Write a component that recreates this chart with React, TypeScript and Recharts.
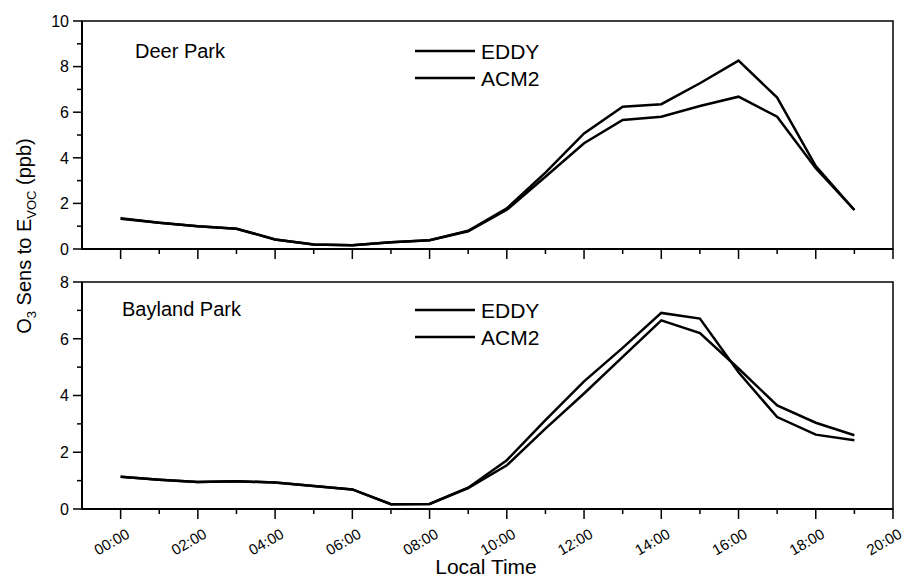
import React from 'react'
import { LineChart, Line, XAxis, YAxis, ReferenceArea } from 'recharts'

// hourly values, local time 00:00 .. 19:00
const HOURS = [0, 1, 2, 3, 4, 5, 6, 7, 8, 9, 10, 11, 12, 13, 14, 15, 16, 17, 18, 19]

const DEER_EDDY = [1.35, 1.15, 1.0, 0.89, 0.42, 0.2, 0.16, 0.3, 0.38, 0.8, 1.78, 3.35, 5.07, 6.24, 6.35, 7.27, 8.26, 6.64, 3.64, 1.71]
const DEER_ACM2 = [1.33, 1.15, 1.0, 0.89, 0.42, 0.2, 0.16, 0.3, 0.38, 0.78, 1.72, 3.17, 4.64, 5.66, 5.8, 6.27, 6.68, 5.8, 3.54, 1.71]

const BAYLAND_EDDY = [1.14, 1.03, 0.95, 0.98, 0.93, 0.81, 0.69, 0.17, 0.18, 0.75, 1.72, 3.13, 4.5, 5.68, 6.91, 6.71, 4.82, 3.24, 2.62, 2.42]
const BAYLAND_ACM2 = [1.14, 1.03, 0.95, 0.98, 0.93, 0.81, 0.69, 0.17, 0.18, 0.74, 1.54, 2.83, 4.07, 5.36, 6.65, 6.2, 4.95, 3.65, 3.04, 2.6]

const SERIES = ['EDDY', 'ACM2']

const X_TICKS = [0, 1, 2, 3, 4, 5, 6, 7, 8, 9, 10, 11, 12, 13, 14, 15, 16, 17, 18, 19, 20]
const X_LABELS = ['00:00', '', '02:00', '', '04:00', '', '06:00', '', '08:00', '', '10:00', '', '12:00', '', '14:00', '', '16:00', '', '18:00', '', '20:00']
const TOP_Y_TICKS = [0, 1, 2, 3, 4, 5, 6, 7, 8, 9, 10]
const BOTTOM_Y_TICKS = [0, 1, 2, 3, 4, 5, 6, 7, 8]

const FONT = '"Liberation Sans", Arial, Helvetica, sans-serif'

const deerData = HOURS.map((h, i) => ({ h, eddy: DEER_EDDY[i], acm2: DEER_ACM2[i] }))
const baylandData = HOURS.map((h, i) => ({ h, eddy: BAYLAND_EDDY[i], acm2: BAYLAND_ACM2[i] }))

// left axis ticks: long + label on even values, short on odd
const YTick = (props: any) => {
  const { x, y, payload } = props
  const major = payload.value % 2 === 0
  return (
    <g>
      <line x1={x} x2={x - (major ? 9 : 5)} y1={y} y2={y} stroke="#000" strokeWidth={1.5} />
      {major && (
        <text x={x - 13} y={y} dy="0.36em" textAnchor="end" fontSize={16} fontFamily={FONT} fill="#000">
          {payload.value}
        </text>
      )}
    </g>
  )
}

const makeXTick = (withLabels: boolean) => (props: any) => {
  const { x, y, payload } = props
  const major = payload.value % 2 === 0
  const label = X_LABELS[X_TICKS.indexOf(payload.value)]
  const tx = x + 10
  const ty = y + 28
  return (
    <g>
      <line x1={x} x2={x} y1={y} y2={y + (major ? 10 : 5)} stroke="#000" strokeWidth={1.5} />
      {withLabels && label && (
        <text
          x={tx}
          y={ty}
          textAnchor="end"
          fontSize={15}
          fontFamily={FONT}
          fill="#000"
          transform={`rotate(-30, ${tx}, ${ty})`}
        >
          {label}
        </text>
      )}
    </g>
  )
}

const SeriesKey = ({ left, top }: { left: number; top: number }) => (
  <div style={{ position: 'absolute', left, top }}>
    {SERIES.map((name) => (
      <div key={name} style={{ display: 'flex', alignItems: 'center', height: 27 }}>
        <svg width={60} height={4} style={{ display: 'block' }}>
          <line x1={0} x2={60} y1={2} y2={2} stroke="#000" strokeWidth={2.5} />
        </svg>
        <span style={{ marginLeft: 6, fontSize: 21, lineHeight: '27px', color: '#000' }}>{name}</span>
      </div>
    ))}
  </div>
)

const lineProps = {
  type: 'linear' as const,
  stroke: '#000',
  strokeWidth: 2.5,
  dot: false,
  activeDot: false,
  isAnimationActive: false,
}

const axisLine = { stroke: '#000', strokeWidth: 2 }

export default function App() {
  return (
    <div style={{ position: 'absolute', left: 0, top: 0, width: 902, height: 580, background: '#fff', fontFamily: FONT }}>
      {/* Deer Park panel */}
      <div style={{ position: 'absolute', left: 0, top: 0 }}>
        <LineChart width={902} height={270} data={deerData} margin={{ top: 21, right: 9, bottom: 9, left: 52 }}>
          <XAxis
            dataKey="h"
            type="number"
            domain={[-1, 20]}
            ticks={X_TICKS}
            height={12}
            tickSize={0}
            tickMargin={0}
            axisLine={axisLine}
            tickLine={false}
            tick={makeXTick(false)}
            interval={0}
          />
          <YAxis
            type="number"
            domain={[0, 10]}
            ticks={TOP_Y_TICKS}
            width={30}
            tickSize={0}
            tickMargin={0}
            axisLine={axisLine}
            tickLine={false}
            tick={<YTick />}
            interval={0}
          />
          <ReferenceArea x1={-1} x2={20} y1={0} y2={10} fill="none" stroke="#000" strokeWidth={1.5} />
          <Line {...lineProps} dataKey="eddy" name="EDDY" />
          <Line {...lineProps} dataKey="acm2" name="ACM2" />
        </LineChart>
        <div style={{ position: 'absolute', left: 135, top: 41, fontSize: 20, lineHeight: '20px', whiteSpace: 'nowrap' }}>
          Deer Park
        </div>
        <SeriesKey left={415} top={37.5} />
      </div>

      {/* Bayland Park panel */}
      <div style={{ position: 'absolute', left: 0, top: 250 }}>
        <LineChart width={902} height={330} data={baylandData} margin={{ top: 32, right: 9, bottom: 11, left: 52 }}>
          <XAxis
            dataKey="h"
            type="number"
            domain={[-1, 20]}
            ticks={X_TICKS}
            height={60}
            tickSize={0}
            tickMargin={0}
            axisLine={axisLine}
            tickLine={false}
            tick={makeXTick(true)}
            interval={0}
          />
          <YAxis
            type="number"
            domain={[0, 8]}
            ticks={BOTTOM_Y_TICKS}
            width={30}
            tickSize={0}
            tickMargin={0}
            axisLine={axisLine}
            tickLine={false}
            tick={<YTick />}
            interval={0}
          />
          <ReferenceArea x1={-1} x2={20} y1={0} y2={8} fill="none" stroke="#000" strokeWidth={1.5} />
          <Line {...lineProps} dataKey="eddy" name="EDDY" />
          <Line {...lineProps} dataKey="acm2" name="ACM2" />
        </LineChart>
        <div style={{ position: 'absolute', left: 122, top: 49, fontSize: 20, lineHeight: '20px', whiteSpace: 'nowrap' }}>
          Bayland Park
        </div>
        <SeriesKey left={415} top={46.5} />
      </div>

      {/* shared axis titles */}
      <div style={{ position: 'absolute', left: 486 - 80, top: 555, width: 160, textAlign: 'center', fontSize: 21, lineHeight: '24px' }}>
        Local Time
      </div>
      <div
        style={{
          position: 'absolute',
          left: 24 - 130,
          top: 236 - 12,
          width: 260,
          height: 24,
          lineHeight: '24px',
          textAlign: 'center',
          fontSize: 20,
          whiteSpace: 'nowrap',
          transform: 'rotate(-90deg)',
          transformOrigin: '50% 50%',
        }}
      >
        O<sub style={{ fontSize: 13, verticalAlign: '-5px', lineHeight: 0 }}>3</sub> Sens to E
        <sub style={{ fontSize: 13, verticalAlign: '-5px', lineHeight: 0 }}>VOC</sub> (ppb)
      </div>
    </div>
  )
}
